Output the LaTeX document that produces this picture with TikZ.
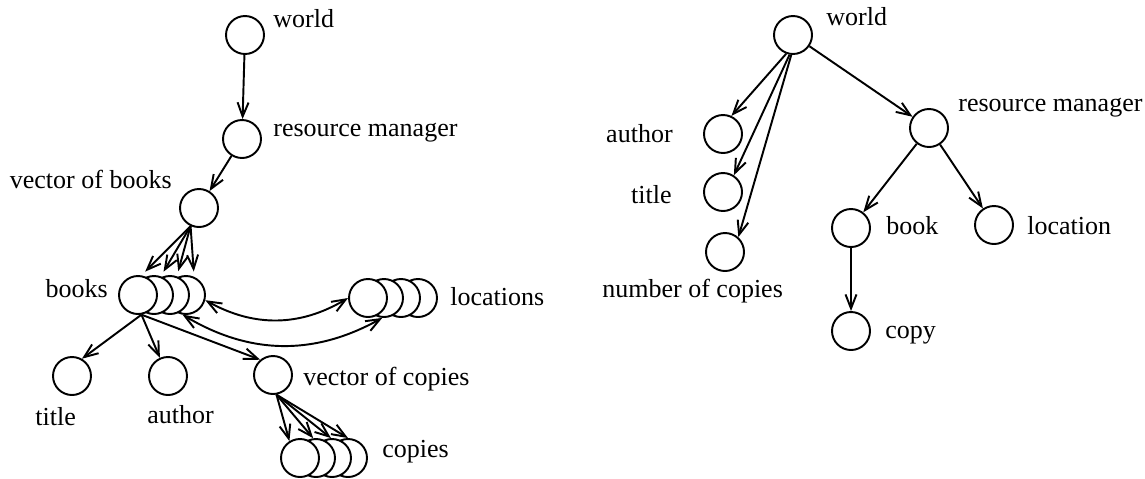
\documentclass[tikz,border=0pt]{standalone}
\usepackage{fontspec}
\setmainfont{Liberation Serif}
\usetikzlibrary{arrows.meta}

\begin{document}
\begin{tikzpicture}[x=0.02cm, y=-0.02cm, font=\fontsize{14.8}{17}\selectfont]
        % Setup the styles for the objects, labels and links
        \tikzset{obj/.style={circle, draw, fill=white,
                             line width=1.1pt,
                             minimum size=0.76cm,
                             inner sep=0pt},
                 lbl/.style={inner sep=0pt},
                 tip/.tip={Straight Barb[length=0.28cm, width=0.22cm]},
                 link/.style={line width=1.1pt, -tip},
                 dlink/.style={line width=1.1pt, tip-tip}}
        \useasboundingbox (0,0) rectangle (1145,478);

        % Draw the objects of the left graph
        \node[obj] at (245,35)  (world) {};
        \node[obj] at (242,139) (manager) {};
        \node[obj] at (199,208) (bookvec) {};
        \foreach \i/\x in {4/186,3/170,2/154,1/138}
            \node[obj] at (\x,295) (book\i) {};
        \foreach \i/\x in {4/418,3/401,2/384,1/368}
            \node[obj] at (\x,298) (loc\i) {};
        \node[obj] at (72,376)  (title) {};
        \node[obj] at (168,376) (author) {};
        \node[obj] at (273,375) (copyvec) {};
        \foreach \i/\x in {4/348,3/332,2/316,1/300}
            \node[obj] at (\x,458) (copy\i) {};

        % Labels of the left graph
        \node[lbl, anchor=base west] at (273,27)  (worldL)   {world};
        \node[lbl, anchor=base west] at (273,136) (managerL) {resource manager};
        \node[lbl, anchor=base east] at (172,188) (bookvecL) {vector of books};
        \node[lbl, anchor=base east] at (108,297) (booksL)   {books};
        \node[lbl, anchor=base west] at (450,305) (locsL)    {locations};
        \node[lbl, anchor=base west] at (35,425)  (titleL)   {title};
        \node[lbl, anchor=base west] at (147,423) (authorL)  {author};
        \node[lbl, anchor=base west] at (303,385) (copyvecL) {vector of copies};
        \node[lbl, anchor=base west] at (382,457) (copiesL)  {copies};

        % Connect the left graph
        \draw[link] (world) -- (manager);
        \draw[link] (manager) -- (bookvec);
        \foreach \i/\a in {1/80,2/70,3/70,4/66}
            \draw[link, shorten >=3pt] (bookvec.-115) -- (book\i.\a);
        \draw[dlink] (book4.-15) to[bend right=30] (loc1.180);
        \draw[dlink] (book4.-100) to[bend right=30] (loc2.-95);
        \draw[link] (book1.-80) -- (title.60);
        \draw[link] (book1.-80) -- (author.114);
        \draw[link] (book1.-80) -- (copyvec.130);
        \foreach \i/\a in {1/122,2/98,3/93,4/90}
            \draw[link] (copyvec.-80) -- (copy\i.\a);

        % Draw the objects of the right graph
        \node[obj] at (793,35)  (world2) {};
        \node[obj] at (723,134) (author2) {};
        \node[obj] at (723,192) (title2) {};
        \node[obj] at (725,252) (number2) {};
        \node[obj] at (929,128) (manager2) {};
        \node[obj] at (851,228) (book2) {};
        \node[obj] at (994,225) (location2) {};
        \node[obj] at (851,331) (copy2) {};

        % Labels of the right graph
        \node[lbl, anchor=base west] at (826,25)  (world2L)    {world};
        \node[lbl, anchor=base east] at (673,142) (author2L)   {author};
        \node[lbl, anchor=base east] at (672,203) (title2L)    {title};
        \node[lbl, anchor=base west] at (602,297) (number2L)   {number of copies};
        \node[lbl, anchor=base west] at (958,111) (manager2L)  {resource manager};
        \node[lbl, anchor=base west] at (886,234) (book2L)     {book};
        \node[lbl, anchor=base west] at (1027,234) (location2L) {location};
        \node[lbl, anchor=base west] at (885,338) (copy2L)     {copy};

        % Connect the right graph
        \draw[link] (world2.-110) -- (author2.65);
        \draw[link] (world2.-100) -- (title2.57);
        \draw[link] (world2.-95) -- (number2.48);
        \draw[link] (world2) -- (manager2);
        \draw[link] (manager2) -- (book2);
        \draw[link] (manager2) -- (location2);
        \draw[link] (book2) -- (copy2);
\end{tikzpicture}
\end{document}
